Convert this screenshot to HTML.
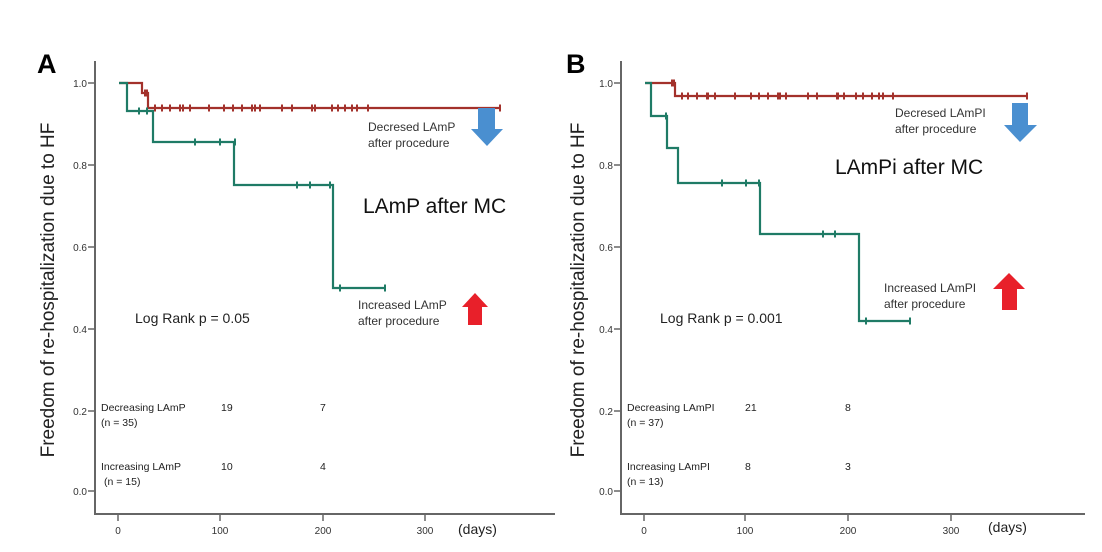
<!DOCTYPE html>
<html><head><meta charset="utf-8"><style>
html,body{margin:0;padding:0;background:#fff;}
svg{display:block;font-family:"Liberation Sans",sans-serif;}
</style></head><body>
<svg id="s" width="1102" height="552" viewBox="0 0 1102 552" xmlns="http://www.w3.org/2000/svg">
<rect width="1102" height="552" fill="#fff"/>
<!-- Panel A -->
<text x="37" y="73" font-size="27" font-weight="bold">A</text>
<text transform="translate(54,290) rotate(-90)" text-anchor="middle" font-size="19" fill="#222">Freedom of re-hospitalization due to HF</text>
<g stroke="#666" stroke-width="2" fill="none"><path d="M95,61 V514 H555"/></g>
<g stroke="#666" stroke-width="1.5">
<path d="M88,83H95M88,165H95M88,247H95M88,329H95M88,411H95M88,491H95"/>
<path d="M118,514V521M220,514V521M323,514V521M425,514V521"/>
</g>
<g font-size="10" fill="#333" text-anchor="end">
<text x="87" y="87">1.0</text><text x="87" y="169">0.8</text><text x="87" y="251">0.6</text><text x="87" y="333">0.4</text><text x="87" y="415">0.2</text><text x="87" y="495">0.0</text>
</g>
<g font-size="10" fill="#333" text-anchor="middle">
<text x="118" y="534">0</text><text x="220" y="534">100</text><text x="323" y="534">200</text><text x="425" y="534">300</text>
</g>
<text x="458" y="534" font-size="14" fill="#222">(days)</text>
<path d="M119,83H142V93H148V108H500" stroke="#a3312b" stroke-width="2.2" fill="none"/>
<path d="M119,83H127V111H153V142H234V185H333V288H385" stroke="#1f7b66" stroke-width="2.2" fill="none"/>
<g id="ra" stroke="#a3312b" stroke-width="2"></g>
<g id="ga" stroke="#1f7b66" stroke-width="2"></g>
<text x="363" y="213" font-size="21" fill="#111">LAmP after MC</text>
<text x="368" y="131" font-size="12" fill="#333">Decresed LAmP</text>
<text x="368" y="147" font-size="12" fill="#333">after procedure</text>
<path d="M478,108H495V129H503L487,146L471,129H478Z" fill="#4a8fd0"/>
<text x="358" y="309" font-size="12" fill="#333">Increased LAmP</text>
<text x="358" y="325" font-size="12" fill="#333">after procedure</text>
<path d="M468,325H482V307H488L475,293L462,307H468Z" fill="#e8202a"/>
<text x="135" y="323" font-size="14" fill="#222">Log Rank p = 0.05</text>
<g font-size="10.5" fill="#222">
<text x="101" y="411">Decreasing LAmP</text><text x="101" y="426">(n = 35)</text>
<text x="221" y="411">19</text><text x="320" y="411">7</text>
<text x="101" y="470">Increasing LAmP</text><text x="104" y="485">(n = 15)</text>
<text x="221" y="470">10</text><text x="320" y="470">4</text>
</g>
<!-- Panel B -->
<text x="566" y="73" font-size="27" font-weight="bold">B</text>
<text transform="translate(584,290) rotate(-90)" text-anchor="middle" font-size="19" fill="#222">Freedom of re-hospitalization due to HF</text>
<g stroke="#666" stroke-width="2" fill="none"><path d="M621,61 V514 H1085"/></g>
<g stroke="#666" stroke-width="1.5">
<path d="M614,83H621M614,165H621M614,247H621M614,329H621M614,411H621M614,491H621"/>
<path d="M644,514V521M745,514V521M848,514V521M951,514V521"/>
</g>
<g font-size="10" fill="#333" text-anchor="end">
<text x="613" y="87">1.0</text><text x="613" y="169">0.8</text><text x="613" y="251">0.6</text><text x="613" y="333">0.4</text><text x="613" y="415">0.2</text><text x="613" y="495">0.0</text>
</g>
<g font-size="10" fill="#333" text-anchor="middle">
<text x="644" y="534">0</text><text x="745" y="534">100</text><text x="848" y="534">200</text><text x="951" y="534">300</text>
</g>
<text x="988" y="532" font-size="14" fill="#222">(days)</text>
<path d="M645,83H675V96H1027" stroke="#a3312b" stroke-width="2.2" fill="none"/>
<path d="M645,83H651V116H667V148H678V183H760V234H859V321H910" stroke="#1f7b66" stroke-width="2.2" fill="none"/>
<g id="rb" stroke="#a3312b" stroke-width="2"></g>
<g id="gb" stroke="#1f7b66" stroke-width="2"></g>
<text x="835" y="174" font-size="21" fill="#111">LAmPi after MC</text>
<text x="895" y="117" font-size="12" fill="#333">Decresed LAmPI</text>
<text x="895" y="133" font-size="12" fill="#333">after procedure</text>
<path d="M1012,103H1028V125H1037L1020,142L1004,125H1012Z" fill="#4a8fd0"/>
<text x="884" y="292" font-size="12" fill="#333">Increased LAmPI</text>
<text x="884" y="308" font-size="12" fill="#333">after procedure</text>
<path d="M1002,310H1017V289H1025L1009,273L993,289H1002Z" fill="#e8202a"/>
<text x="660" y="323" font-size="14" fill="#222">Log Rank p = 0.001</text>
<g font-size="10.5" fill="#222">
<text x="627" y="411">Decreasing LAmPI</text><text x="627" y="426">(n = 37)</text>
<text x="745" y="411">21</text><text x="845" y="411">8</text>
<text x="627" y="470">Increasing LAmPI</text><text x="627" y="485">(n = 13)</text>
<text x="745" y="470">8</text><text x="845" y="470">3</text>
</g>
</svg>
<script>
function m(id,pts){var g=document.getElementById(id),d="";pts.forEach(function(p){d+="M"+p[0]+","+(p[1]-3.5)+"V"+(p[1]+3.5);});var e=document.createElementNS("http://www.w3.org/2000/svg","path");e.setAttribute("d",d);g.appendChild(e);}
var y=108;m("ra",[[145,93],[147,93]].concat([155,162,170,180,183,190,209,224,233,242,252,255,260,282,292,312,315,332,338,345,352,357,368,500].map(function(x){return [x,y]})));
m("ga",[[139,111],[147,111],[195,142],[220,142],[235,142],[297,185],[310,185],[330,185],[340,288],[385,288]]);
m("rb",[[672,83],[674,83]].concat([682,688,697,707,708,715,735,751,759,768,778,780,786,808,817,837,838,844,856,863,872,879,883,893,1027].map(function(x){return [x,96]})));
m("gb",[[666,116],[722,183],[746,183],[759,183],[823,234],[835,234],[866,321],[910,321]]);
</script>
</body></html>
